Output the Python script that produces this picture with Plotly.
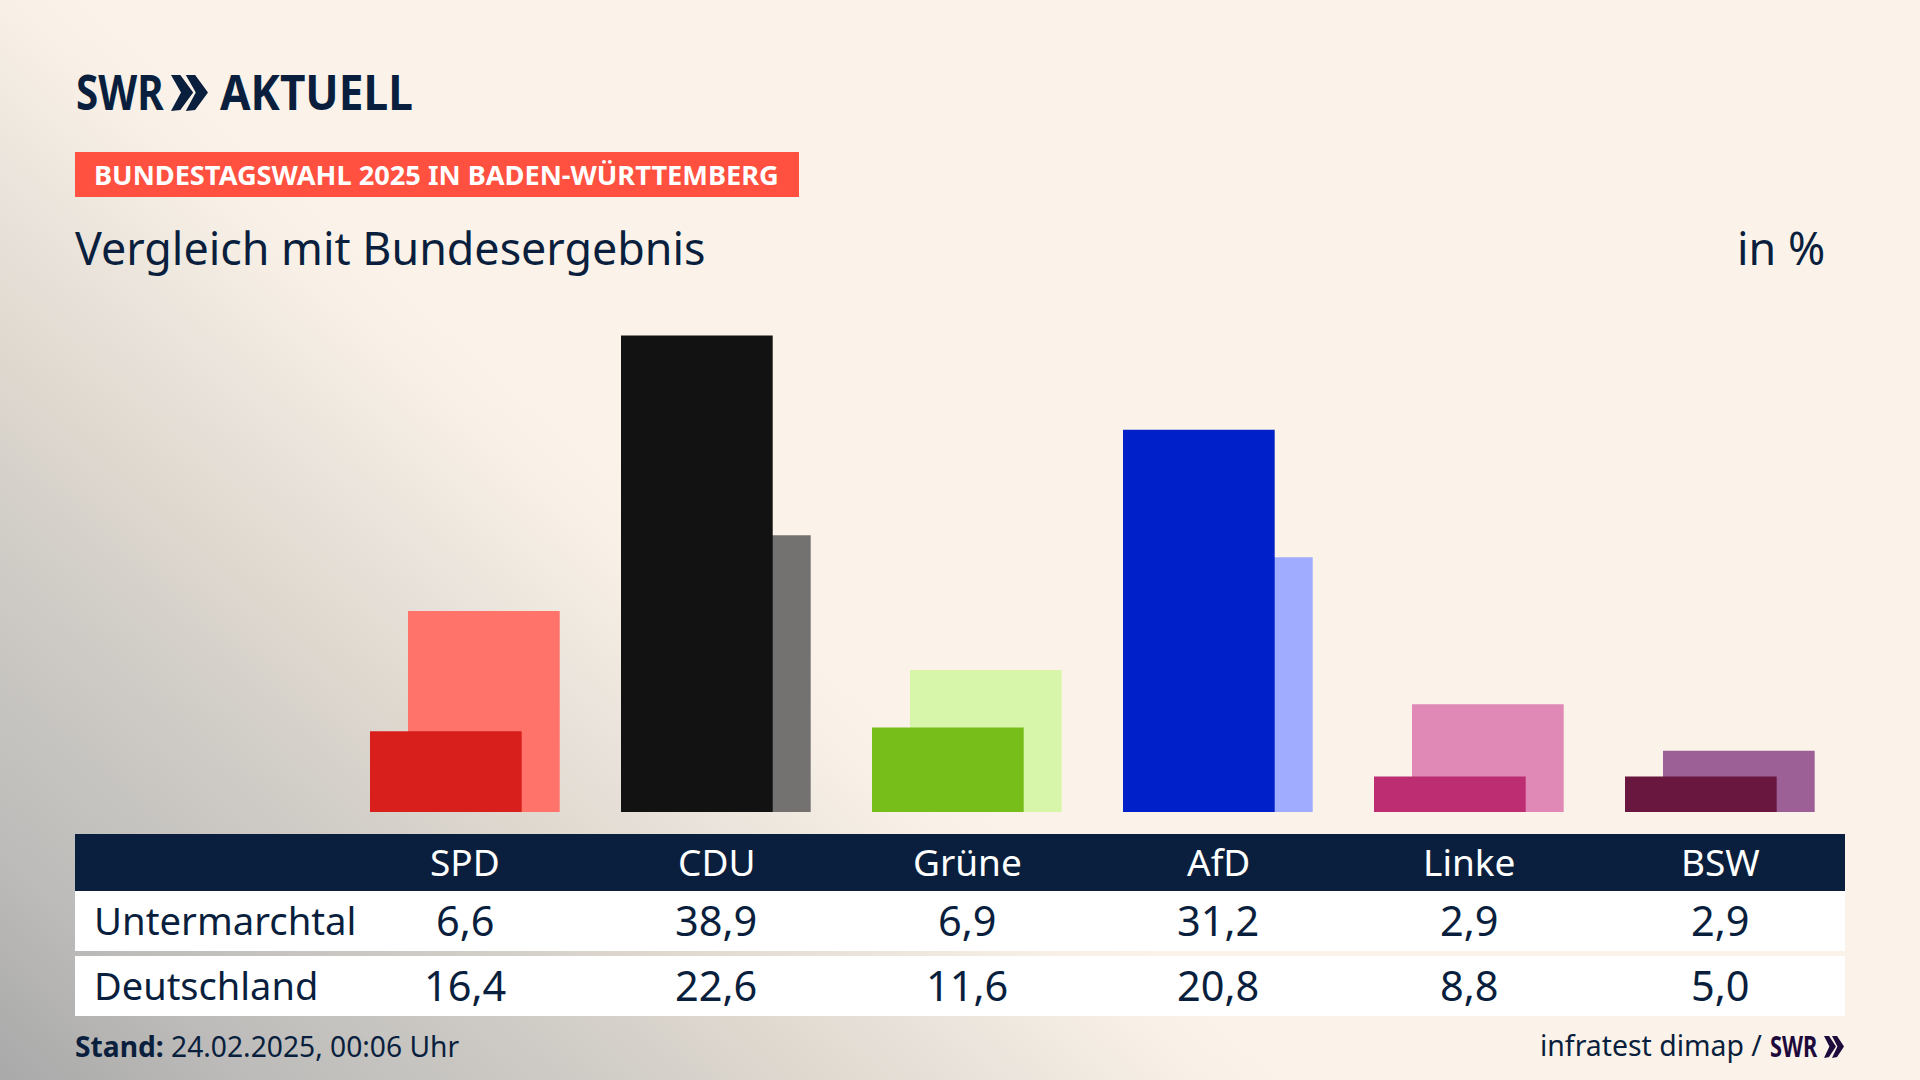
import plotly.graph_objects as go

parties = ["SPD", "CDU", "Grüne", "AfD", "Linke", "BSW"]
local_values = [6.6, 38.9, 6.9, 31.2, 2.9, 2.9]
national_values = [16.4, 22.6, 11.6, 20.8, 8.8, 5.0]
local_name = "Untermarchtal"
national_name = "Deutschland"
local_colors = ["#D81F1B", "#121212", "#78BE1A", "#0021C9", "#BC2D72", "#6A173F"]
national_colors = ["#FF736B", "#737271", "#D8F6A9", "#9FACFF", "#E088B6", "#9C6097"]

W, H = 1920, 1080
NAVY = "#0A1F3D"
FONT = "Noto Sans"


def px(x):
    return x / W


def py(y):
    return 1 - y / H


def fmt(v):
    return f"{v:.1f}".replace(".", ",")


fig = go.Figure()
fig.add_bar(x=parties, y=national_values, name=national_name, marker_color=national_colors,
            marker_line_width=0, width=151.7 / 251, offset=-57 / 251, hoverinfo="x+y")
fig.add_bar(x=parties, y=local_values, name=local_name, marker_color=local_colors,
            marker_line_width=0, width=151.7 / 251, offset=-95 / 251, hoverinfo="x+y")

shapes = []


def rect(x0, y0, x1, y1, color):
    shapes.append(dict(type="rect", xref="paper", yref="paper", x0=px(x0), x1=px(x1),
                       y0=py(y1), y1=py(y0), fillcolor=color, line_width=0, layer="below"))


def chevrons(x0, y0, w, h, color):
    # two arrowheads side by side, as in the SWR wordmark
    cw = w * 0.6
    for dx in (0, w - cw):
        pts = [(x0 + dx, y0), (x0 + dx + cw * 0.42, y0), (x0 + dx + cw, y0 + h / 2),
               (x0 + dx + cw * 0.42, y0 + h), (x0 + dx, y0 + h + 1), (x0 + dx + cw * 0.45, y0 + h / 2)]
        path = "M " + " L ".join(f"{px(a):.5f},{py(b):.5f}" for a, b in pts) + " Z"
        shapes.append(dict(type="path", xref="paper", yref="paper", path=path,
                           fillcolor=color, line_width=0, layer="above"))


rect(75, 152, 799, 197, "#FF5040")
rect(75, 834, 1845, 891, NAVY)
rect(75, 891, 1845, 951, "#FFFFFF")
rect(75, 956, 1845, 1016, "#FFFFFF")
chevrons(171, 75, 37, 35, NAVY)
chevrons(1824, 1036, 20, 21, "#1E0B3C")

ann = []


def text(x, y, s, size, color=NAVY, anchor="left", weight=None, xref="paper"):
    ann.append(dict(x=px(x) if xref == "paper" else x, y=py(y), xref=xref, yref="paper",
                    text=s, showarrow=False, xanchor=anchor, yanchor="middle",
                    font=dict(family=FONT, size=size, color=color, weight=weight),
                    borderpad=0, borderwidth=0))


text(76, 92, "SWR", 48, weight=700)
text(220, 92, "AKTUELL", 48, weight=700)
text(94, 175, "BUNDESTAGSWAHL 2025 IN BADEN-WÜRTTEMBERG", 27.2, "#FFFFFF", weight=700)
text(75, 247, "Vergleich mit Bundesergebnis", 44.8)
text(1825, 247, "in %", 44.8, anchor="right")
text(94, 920, local_name, 38.3)
text(94, 985, national_name, 38)
for p, a, b in zip(parties, local_values, national_values):
    text(p, 861, p, 37, "#FFFFFF", anchor="center", xref="x")
    text(p, 920, fmt(a), 41.5, anchor="center", xref="x")
    text(p, 985, fmt(b), 41.5, anchor="center", xref="x")
text(75, 1046, "<b>Stand:</b> 24.02.2025, 00:06 Uhr", 28.2)
text(1762, 1045, "infratest dimap /", 28.4, anchor="right")
text(1770, 1045, "SWR", 29, "#1E0B3C", weight=700)

fig.update_layout(
    width=W, height=H, margin=dict(l=0, r=0, t=0, b=0, pad=0),
    paper_bgcolor="rgba(0,0,0,0)", plot_bgcolor="rgba(0,0,0,0)",
    barmode="overlay", showlegend=False, shapes=shapes, annotations=ann,
    xaxis=dict(visible=False, type="category", range=[-465 / 251, (W - 465) / 251],
               categoryorder="array", categoryarray=parties),
    yaxis=dict(visible=False, range=[-268 / 12.25, 812 / 12.25]),
)

post = """
document.documentElement.style.margin='0';
document.body.style.margin='0';
document.body.style.overflow='hidden';
document.body.style.background=
 'linear-gradient(222deg,#fbf3e9 0%,#fbf3e9 58%,#f8f0e6 61.6%,#e8e2da 68.7%,#e0d9d0 73.7%,#d2cec8 79.6%,#bdbcba 91.5%,#a9a9a9 100%)';
document.body.style.height='1080px';
var squeeze=[['SWR',48,0.84],['AKTUELL',48,0.92],['SWR',29,0.75]];
document.querySelectorAll('.annotation-text').forEach(function(t){
  squeeze.forEach(function(s){
    if(t.textContent===s[0] && Math.round(parseFloat(getComputedStyle(t).fontSize))===s[1]){
      t.style.transformBox='fill-box';
      t.style.transformOrigin='left center';
      t.style.transform='scaleX('+s[2]+')';
    }
  });
});
"""
fig.write_html("out.html", post_script=post, config=dict(displayModeBar=False))
